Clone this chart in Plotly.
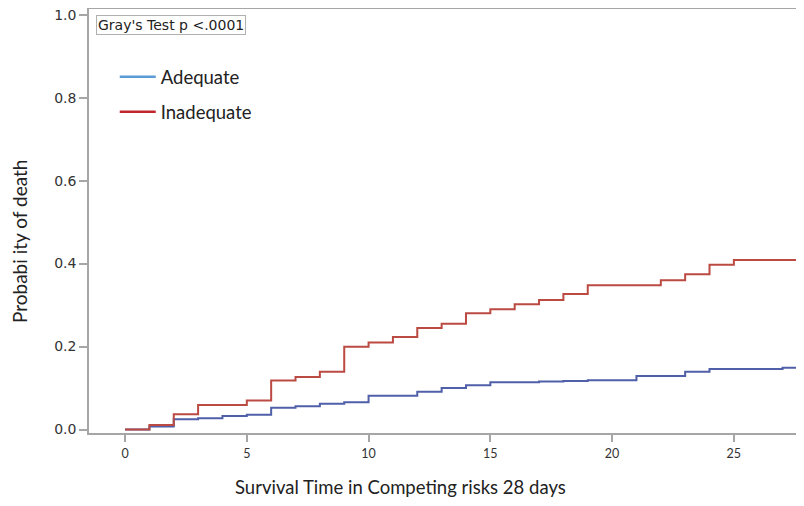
import plotly.graph_objects as go

# Cumulative incidence (probability of death) by day, step functions
days_adequate = [0, 1, 2, 3, 4, 5, 6, 7, 8, 9, 10, 12, 13, 14, 15, 17, 18, 19, 21, 23, 24, 27, 28]
prob_adequate = [0, 0.007, 0.0245, 0.027, 0.0325, 0.0357, 0.0525, 0.056, 0.062, 0.0655, 0.0815,
                 0.091, 0.100, 0.107, 0.1137, 0.116, 0.117, 0.1185, 0.129, 0.139, 0.1458, 0.149, 0.149]

days_inadequate = [0, 1, 2, 3, 5, 6, 7, 8, 9, 10, 11, 12, 13, 14, 15, 16, 17, 18, 19, 22, 23, 24, 25, 28]
prob_inadequate = [0, 0.011, 0.037, 0.059, 0.070, 0.118, 0.1265, 0.139, 0.1995, 0.21, 0.223, 0.245,
                   0.255, 0.28, 0.29, 0.302, 0.312, 0.3265, 0.348, 0.36, 0.374, 0.397, 0.4085, 0.4085]

x_ticks = [0, 5, 10, 15, 20, 25]
y_ticks = [0.0, 0.2, 0.4, 0.6, 0.8, 1.0]
y_tick_labels = ["0.0", "0.2", "0.4", "0.6", "0.8", "1.0"]

line_blue = "#4f5fa8"
line_red = "#bb4a42"
legend_blue = "#5b9bd5"
legend_red = "#c0262d"

fig = go.Figure()
fig.add_trace(go.Scatter(x=days_adequate, y=prob_adequate, mode="lines",
                         line=dict(color=line_blue, width=2, shape="hv"),
                         showlegend=False, hoverinfo="skip"))
fig.add_trace(go.Scatter(x=days_inadequate, y=prob_inadequate, mode="lines",
                         line=dict(color=line_red, width=2, shape="hv"),
                         showlegend=False, hoverinfo="skip"))
# legend entries
fig.add_trace(go.Scatter(x=[None], y=[None], mode="lines", name="Adequate",
                         line=dict(color=legend_blue, width=2.5), legendgroup="a"))
fig.add_trace(go.Scatter(x=[None], y=[None], mode="lines", name="Inadequate",
                         line=dict(color=legend_red, width=2.5), legendgroup="b"))

axis_col = "#a6a6a6"
# page body has an 8px margin; figure is sized so the plot lands where the reference has it
fig.update_layout(
    width=796, height=498,
    margin=dict(l=81, r=0, t=1, b=73),
    paper_bgcolor="white", plot_bgcolor="white",
    showlegend=True,
    legend=dict(x=0.036, y=0.884, xanchor="left", yanchor="top",
                font=dict(family="Lato", size=18.5, color="#222222"),
                bgcolor="rgba(0,0,0,0)", borderwidth=0, tracegroupgap=8, itemwidth=36),
    xaxis=dict(range=[-1.48, 27.88], tickvals=x_ticks, ticktext=[str(v) for v in x_ticks],
               showgrid=False, zeroline=False, showline=True, linecolor=axis_col, linewidth=1.5,
               mirror=True, ticks="outside", ticklen=7, tickcolor=axis_col, tickwidth=1.5,
               tickfont=dict(family="Lato", size=12.5, color="#333333"), ticklabelstandoff=1),
    yaxis=dict(range=[-0.0084, 1.0137], tickvals=y_ticks, ticktext=y_tick_labels,
               showgrid=False, zeroline=False, showline=True, linecolor=axis_col, linewidth=1.5,
               ticks="outside", ticklen=8, tickcolor=axis_col, tickwidth=1.5,
               ticklabeloverflow="allow",
               tickfont=dict(family="DejaVu Sans", size=14, color="#333333")),
    annotations=[
        dict(text="Gray's Test p <.0001", xref="paper", yref="paper", x=0.0094, y=0.9866,
             xanchor="left", yanchor="top", showarrow=False,
             font=dict(family="DejaVu Sans", size=14, color="#222222"),
             bordercolor="#b0b0b0", borderwidth=1, borderpad=1, bgcolor="white"),
        dict(text="Survival Time in Competing risks 28 days", xref="paper", yref="paper",
             x=0.435, y=-0.1274, xanchor="center", yanchor="middle",
             showarrow=False, font=dict(family="Lato", size=18.5, color="#222222")),
        dict(text="Probabi ity of death", xref="paper", yref="paper",
             x=-0.0965, y=0.4505, xanchor="center", yanchor="middle",
             textangle=-90, showarrow=False, font=dict(family="Lato", size=19, color="#222222")),
    ],
)

fig.write_html("out.html")
